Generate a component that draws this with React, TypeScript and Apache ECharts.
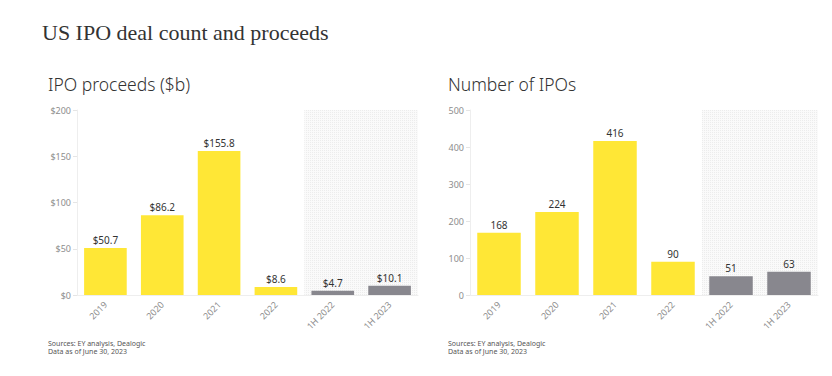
import React, { useEffect, useRef } from "react";
import * as echarts from "echarts";

const categories = ["2019", "2020", "2021", "2022", "1H 2022", "1H 2023"];
const proceeds = [50.7, 86.2, 155.8, 8.6, 4.7, 10.1];
const ipoCounts = [168, 224, 416, 90, 51, 63];
const halfYearFlags = [false, false, false, false, true, true];
const proceedsTicks = { min: 0, max: 200, interval: 50 };
const countTicks = { min: 0, max: 500, interval: 100 };

const YELLOW = "#FFE736";
const GREY = "#88878E";
const SHADE = "#fafafa";

export default function App() {
  const ref = useRef<HTMLDivElement>(null);
  useEffect(() => {
    const chart = echarts.init(ref.current!, null, { renderer: "svg" });
    const grids = [
      { left: 77, right: 414, top: 110, bottom: 81 },
      { left: 470, right: 14, top: 110, bottom: 81 },
    ];
    const axisLabelStyle = { color: "#8d8d8d", fontSize: 9, fontFamily: "Noto Sans" };
    const xAxes: any[] = [];
    const yAxes: any[] = [];
    const series: any[] = [];
    [0, 1].forEach((g) => {
      xAxes.push({
        type: "category",
        gridIndex: g,
        data: categories,
        axisLine: { lineStyle: { color: "#eeeeee" } },
        axisTick: { alignWithLabel: true, length: 4, lineStyle: { color: "#e5e5e5" } },
        axisLabel: { ...axisLabelStyle, rotate: 45, margin: 8 },
      });
      xAxes.push({
        type: "category",
        gridIndex: g,
        data: categories,
        show: false,
      });
      const t = g === 0 ? proceedsTicks : countTicks;
      yAxes.push({
        type: "value",
        gridIndex: g,
        min: t.min,
        max: t.max,
        interval: t.interval,
        splitLine: { show: false },
        axisLine: { show: true, lineStyle: { color: "#eeeeee" } },
        axisTick: { show: true, length: 4, lineStyle: { color: "#e5e5e5" } },
        axisLabel: {
          ...axisLabelStyle,
          margin: 6,
          formatter: (v: number) => (g === 0 ? "$" + v : String(v)),
        },
      });
      const vals = g === 0 ? proceeds : ipoCounts;
      series.push({
        type: "bar",
        xAxisIndex: g * 2 + 1,
        yAxisIndex: g,
        barWidth: "100%",
        silent: true,
        z: 1,
        data: halfYearFlags.map((f) => (f ? t.max : null)),
        itemStyle: {
          color: SHADE,
          decal: {
            symbol: "rect",
            symbolSize: 1,
            color: "#ececec",
            dashArrayX: [1, 1],
            dashArrayY: [1, 1],
          },
        },
      });
      series.push({
        type: "bar",
        xAxisIndex: g * 2,
        yAxisIndex: g,
        barWidth: "75%",
        z: 2,
        data: vals.map((v, i) => ({
          value: v,
          itemStyle: { color: halfYearFlags[i] ? GREY : YELLOW },
        })),
        label: {
          show: true,
          position: "top",
          distance: 3,
          color: "#333333",
          fontSize: 10,
          fontFamily: "Noto Sans",
          formatter: (p: any) => (g === 0 ? "$" + p.value : String(p.value)),
        },
      });
    });
    chart.setOption({
      animation: false,
      backgroundColor: "#ffffff",
      grid: grids,
      xAxis: xAxes,
      yAxis: yAxes,
      series,
      graphic: [
        {
          type: "text",
          left: 42,
          top: 21,
          style: {
            text: "US IPO deal count and proceeds",
            font: "22px 'Liberation Serif'",
            fill: "#333333",
          },
        },
        {
          type: "text",
          left: 48,
          top: 75,
          style: {
            text: "IPO proceeds ($b)",
            font: "300 17.5px 'Noto Sans'",
            fill: "#333333",
          },
        },
        {
          type: "text",
          left: 448,
          top: 75,
          style: {
            text: "Number of IPOs",
            font: "300 17.5px 'Noto Sans'",
            fill: "#333333",
          },
        },
        {
          type: "text",
          left: 48,
          top: 339,
          style: {
            text: "Sources: EY analysis, Dealogic\nData as of June 30, 2023",
            font: "7px 'Noto Sans'",
            lineHeight: 8,
            fill: "#555555",
          },
        },
        {
          type: "text",
          left: 448,
          top: 339,
          style: {
            text: "Sources: EY analysis, Dealogic\nData as of June 30, 2023",
            font: "7px 'Noto Sans'",
            lineHeight: 8,
            fill: "#555555",
          },
        },
      ],
    });
    return () => chart.dispose();
  }, []);
  return (
    <div
      ref={ref}
      style={{ position: "absolute", left: 0, top: 0, width: 832, height: 376 }}
    />
  );
}
